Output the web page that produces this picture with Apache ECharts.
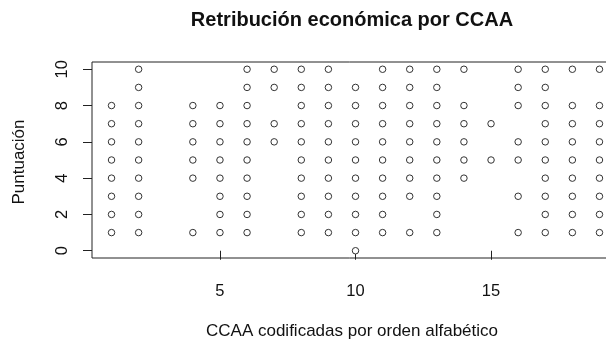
<!DOCTYPE html>
<html>
<head>
<meta charset="utf-8">
<script src="https://cdn.jsdelivr.net/npm/echarts@6/dist/echarts.min.js"></script>
<style>
  html, body { margin: 0; padding: 0; background: #fff; }
  #chart { width: 606px; height: 340px; }
</style>
</head>
<body>
<div id="chart"></div>
<script>
// CCAA codes (alphabetical order) and the scores observed for each one
const ccaaCodes = [1, 2, 3, 4, 5, 6, 7, 8, 9, 10, 11, 12, 13, 14, 15, 16, 17, 18, 19];
const puntuaciones = [
  [1, 2, 3, 4, 5, 6, 7, 8],
  [1, 2, 3, 4, 5, 6, 7, 8, 9, 10],
  [],
  [1, 4, 5, 6, 7, 8],
  [1, 2, 3, 4, 5, 6, 7, 8],
  [1, 2, 3, 4, 5, 6, 7, 8, 9, 10],
  [6, 7, 9, 10],
  [1, 2, 3, 4, 5, 6, 7, 8, 9, 10],
  [1, 2, 3, 4, 5, 6, 7, 8, 9, 10],
  [0, 1, 2, 3, 4, 5, 6, 7, 8, 9],
  [1, 2, 3, 4, 5, 6, 7, 8, 9, 10],
  [1, 3, 4, 5, 6, 7, 8, 9, 10],
  [1, 2, 3, 4, 5, 6, 7, 8, 9, 10],
  [4, 5, 6, 7, 8, 10],
  [5, 7],
  [1, 3, 5, 6, 8, 9, 10],
  [1, 2, 3, 4, 5, 6, 7, 8, 9, 10],
  [1, 2, 3, 4, 5, 6, 7, 8, 10],
  [1, 2, 3, 4, 5, 6, 7, 8, 10]
];
const xTicks = [5, 10, 15];
const yTicks = [0, 2, 4, 6, 8, 10];

const puntos = [];
ccaaCodes.forEach((c, i) => {
  puntos.push(...puntuaciones[i].map(v => [c, v]));
});

const chart = echarts.init(document.getElementById('chart'), null, { renderer: 'canvas' });
const font = '"Liberation Sans", Arial, sans-serif';

// plot region: x from 0.28 to 19.72, y from -0.4 to 10.4 (4% padding each side);
// the right edge of the box runs past the canvas
chart.setOption({
  animation: false,
  backgroundColor: '#fff',
  grid: {
    left: 92, top: 62, width: 527, height: 196,
    outerBoundsMode: 'none',
    show: true, borderColor: '#222', borderWidth: 1, backgroundColor: 'transparent'
  },
  xAxis: {
    type: 'value', min: 0.28, max: 19.72,
    axisLine: { show: false },
    splitLine: { show: false },
    axisTick: { show: true, inside: false, length: 9, customValues: xTicks, lineStyle: { color: '#222' } },
    axisLabel: { customValues: xTicks, margin: 25, fontSize: 16.5, color: '#111', fontFamily: font }
  },
  yAxis: {
    type: 'value', min: -0.4, max: 10.4,
    axisLine: { show: false },
    splitLine: { show: false },
    axisTick: { show: true, inside: false, length: 9, customValues: yTicks, lineStyle: { color: '#222' } },
    axisLabel: { customValues: yTicks, margin: 30, rotate: 90, fontSize: 16.5, color: '#111', fontFamily: font, align: 'center', verticalAlign: 'middle' }
  },
  graphic: [
    { type: 'text', x: 352, y: 20, style: { text: 'Retribución económica por CCAA', font: 'bold 20px ' + font, fill: '#111', align: 'center', verticalAlign: 'middle' } },
    { type: 'text', x: 352, y: 331, style: { text: 'CCAA codificadas por orden alfabético', font: '17px ' + font, fill: '#111', align: 'center', verticalAlign: 'middle' } },
    { type: 'text', x: 19, y: 162, rotation: Math.PI / 2, style: { text: 'Puntuación', font: '17px ' + font, fill: '#111', align: 'center', verticalAlign: 'middle' } }
  ],
  series: [{
    type: 'scatter',
    data: puntos,
    symbol: 'circle',
    symbolSize: 6.5,
    itemStyle: { color: '#fff', borderColor: '#333', borderWidth: 1, opacity: 1 }
  }]
});
</script>
</body>
</html>
